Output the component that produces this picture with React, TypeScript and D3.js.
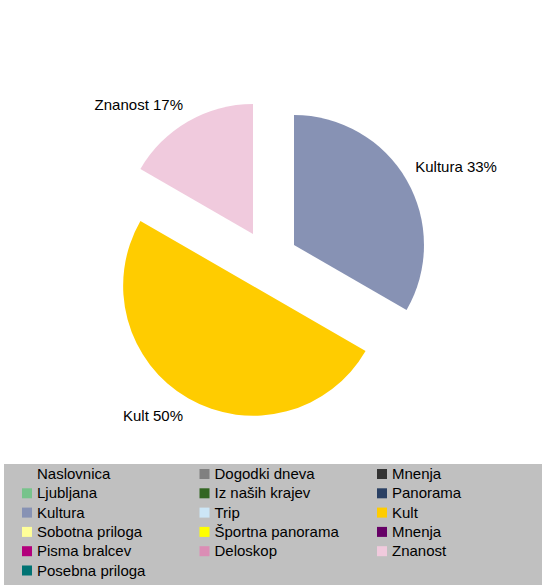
import React from "react";
import * as d3 from "d3";

const categories = [
  "Naslovnica", "Dogodki dneva", "Mnenja",
  "Ljubljana", "Iz naših krajev", "Panorama",
  "Kultura", "Trip", "Kult",
  "Sobotna priloga", "Športna panorama", "Mnenja",
  "Pisma bralcev", "Deloskop", "Znanost",
  "Posebna priloga",
];
const values = [0, 0, 0, 0, 0, 0, 2, 0, 3, 0, 0, 0, 0, 0, 1, 0];
const colors = [
  "#C0C0C0", "#808080", "#333333",
  "#77C38B", "#336622", "#2A4064",
  "#8792B4", "#CCE6F6", "#FFCC00",
  "#FFFF99", "#FFFF00", "#660066",
  "#B3007C", "#DB8DB5", "#F0CADD",
  "#007373",
];

const W = 542;
const H = 585;
const FONT = "'Liberation Sans', Arial, sans-serif";

export default function App() {
  const cx = 268, cy = 260, r = 130, explode = 30;
  const items = categories.map((c, i) => ({ name: c, value: values[i], color: colors[i], idx: i }));
  const pie = d3.pie<any>().sort(null).value((d) => d.value);
  const arcs = pie(items).filter((a) => a.data.value > 0);
  const arcGen = d3.arc<any>().innerRadius(0).outerRadius(r);
  const total = d3.sum(values);
  const fs = 15, ascent = 0.905 * fs, descent = 0.212 * fs;

  const legendX0 = 22, colW = 177.5, rowY0 = 479, rowH = 19.3;

  return (
    <svg width={W} height={H} style={{ position: "absolute", left: 0, top: 0, background: "#fff" }} fontFamily={FONT}>
      <rect x={0} y={0} width={W} height={H} fill="#fff" />
      {arcs.map((a, i) => {
        const mid = (a.startAngle + a.endAngle) / 2;
        const dx = Math.sin(mid), dy = -Math.cos(mid);
        const ox = cx + dx * explode, oy = cy + dy * explode;
        const label = `${a.data.name} ${Math.round((a.data.value / total) * 100)}%`;
        const D = 140;
        const px = ox + dx * D, py = oy + dy * D;
        const right = dx >= 0;
        const top = dy < 0;
        const baseY = top ? py - descent : py + ascent;
        return (
          <g key={i}>
            <path d={arcGen(a) as string} transform={`translate(${ox},${oy})`} fill={a.data.color} />
            <text x={px} y={baseY} textAnchor={right ? "start" : "end"} fontSize={fs} fill="#000">
              {label}
            </text>
          </g>
        );
      })}
      <rect x={4} y={464} width={W - 4} height={H - 464} fill="#C0C0C0" />
      {items.map((d, i) => {
        const col = i % 3, row = Math.floor(i / 3);
        const x = legendX0 + col * colW;
        const y = rowY0 + row * rowH;
        return (
          <g key={i}>
            <rect x={x} y={y - 10} width={10} height={10} fill={d.color} />
            <text x={x + 15} y={y} fontSize={fs} fill="#000">{d.name}</text>
          </g>
        );
      })}
    </svg>
  );
}
